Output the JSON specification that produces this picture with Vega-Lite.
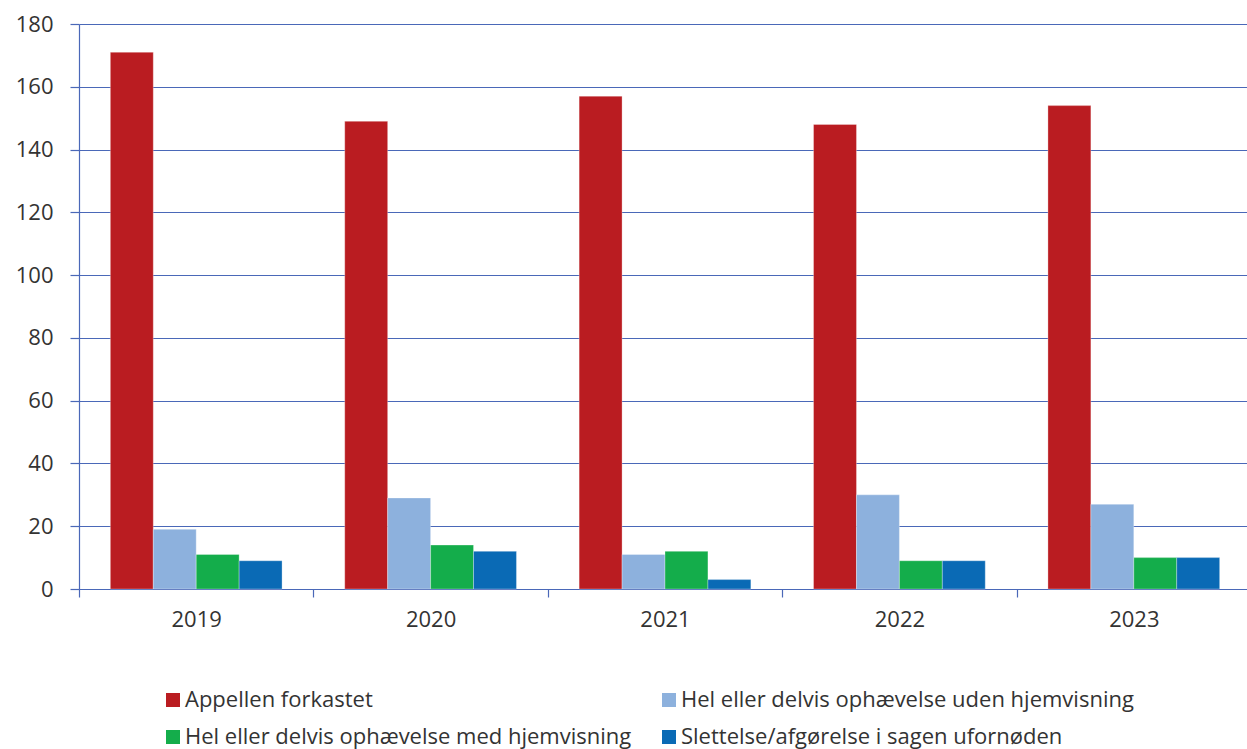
{
  "$schema": "https://vega.github.io/schema/vega-lite/v6.json",
  "autosize": "none",
  "width": 1172,
  "height": 565,
  "padding": {"left": 79, "top": 24, "right": 0, "bottom": 160},
  "background": "white",
  "config": {
    "font": "Open Sans",
    "view": {"stroke": null}
  },
  "data": {
    "values": [
      {"year": "2019", "cat": "Appellen forkastet", "value": 171},
      {"year": "2019", "cat": "Hel eller delvis ophævelse uden hjemvisning", "value": 19},
      {"year": "2019", "cat": "Hel eller delvis ophævelse med hjemvisning", "value": 11},
      {"year": "2019", "cat": "Slettelse/afgørelse i sagen ufornøden", "value": 9},
      {"year": "2020", "cat": "Appellen forkastet", "value": 149},
      {"year": "2020", "cat": "Hel eller delvis ophævelse uden hjemvisning", "value": 29},
      {"year": "2020", "cat": "Hel eller delvis ophævelse med hjemvisning", "value": 14},
      {"year": "2020", "cat": "Slettelse/afgørelse i sagen ufornøden", "value": 12},
      {"year": "2021", "cat": "Appellen forkastet", "value": 157},
      {"year": "2021", "cat": "Hel eller delvis ophævelse uden hjemvisning", "value": 11},
      {"year": "2021", "cat": "Hel eller delvis ophævelse med hjemvisning", "value": 12},
      {"year": "2021", "cat": "Slettelse/afgørelse i sagen ufornøden", "value": 3},
      {"year": "2022", "cat": "Appellen forkastet", "value": 148},
      {"year": "2022", "cat": "Hel eller delvis ophævelse uden hjemvisning", "value": 30},
      {"year": "2022", "cat": "Hel eller delvis ophævelse med hjemvisning", "value": 9},
      {"year": "2022", "cat": "Slettelse/afgørelse i sagen ufornøden", "value": 9},
      {"year": "2023", "cat": "Appellen forkastet", "value": 154},
      {"year": "2023", "cat": "Hel eller delvis ophævelse uden hjemvisning", "value": 27},
      {"year": "2023", "cat": "Hel eller delvis ophævelse med hjemvisning", "value": 10},
      {"year": "2023", "cat": "Slettelse/afgørelse i sagen ufornøden", "value": 10}
    ]
  },
  "mark": {"type": "bar", "stroke": "white", "strokeWidth": 0.6, "strokeOpacity": 0.5},
  "encoding": {
    "x": {
      "field": "year",
      "type": "nominal",
      "scale": {"paddingInner": 0, "paddingOuter": 0},
      "axis": {
        "title": null,
        "labelAngle": 0,
        "labelFontSize": 22,
        "labelColor": "#333333",
        "labelPadding": 12,
        "tickBand": "extent",
        "tickSize": 8,
        "tickColor": "#4a68b8",
        "tickWidth": 1.2,
        "domainColor": "#4a68b8",
        "domainWidth": 1.2,
        "grid": false
      }
    },
    "xOffset": {
      "field": "cat",
      "type": "nominal",
      "scale": {
        "domain": ["Appellen forkastet", "Hel eller delvis ophævelse uden hjemvisning", "Hel eller delvis ophævelse med hjemvisning", "Slettelse/afgørelse i sagen ufornøden"],
        "paddingInner": 0,
        "paddingOuter": 0.73
      }
    },
    "y": {
      "field": "value",
      "type": "quantitative",
      "scale": {"domain": [0, 180]},
      "axis": {
        "title": null,
        "values": [0, 20, 40, 60, 80, 100, 120, 140, 160, 180],
        "labelFontSize": 22,
        "labelColor": "#333333",
        "labelPadding": 17,
        "tickSize": 9,
        "tickColor": "#4a68b8",
        "tickWidth": 1.2,
        "domainColor": "#4a68b8",
        "domainWidth": 1.2,
        "grid": true,
        "gridColor": "#4a68b8",
        "gridWidth": 1.2
      }
    },
    "color": {
      "field": "cat",
      "type": "nominal",
      "scale": {
        "domain": ["Appellen forkastet", "Hel eller delvis ophævelse uden hjemvisning", "Hel eller delvis ophævelse med hjemvisning", "Slettelse/afgørelse i sagen ufornøden"],
        "range": ["#ba1c21", "#8db1dd", "#14ad4b", "#0a6ab5"]
      },
      "legend": {
        "title": null,
        "orient": "none",
        "legendX": 83,
        "legendY": 665,
        "direction": "horizontal",
        "columns": 2,
        "columnPadding": 26,
        "rowPadding": 15,
        "symbolType": "square",
        "symbolSize": 196,
        "symbolStrokeWidth": 0,
        "symbolOffset": 0,
        "labelFontSize": 22,
        "labelColor": "#333333",
        "labelOffset": 1,
        "labelLimit": 600
      }
    }
  }
}
